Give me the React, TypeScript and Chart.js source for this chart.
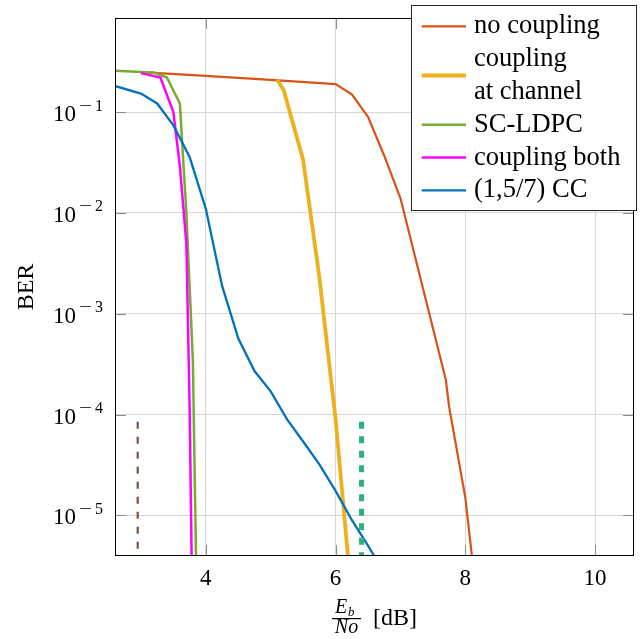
import React, { useEffect, useRef } from "react";
import { Chart, registerables } from "chart.js";
Chart.register(...registerables);

// ---- data ----
const xTickValues = [4, 6, 8, 10];
const yTickExponents = [-1, -2, -3, -4, -5];

const noCouplingX = [3.0, 4.0, 5.0, 6.0, 6.25, 6.5, 6.75, 7.0, 7.7, 7.75, 8.0, 8.25];
const noCouplingY = [0.25, 0.229, 0.209, 0.19, 0.15, 0.09, 0.037, 0.014, 2.2e-4, 1.2e-4, 1.5e-5, 5.6e-7];

const chanCouplingX = [5.1, 5.2, 5.5, 5.75, 6.0, 6.25];
const chanCouplingY = [0.21, 0.166, 0.0336, 2.3e-3, 9e-5, 1.5e-6];

const scLdpcX = [2.5, 3.0, 3.2, 3.4, 3.6, 3.7, 3.8, 3.85];
const scLdpcY = [0.26, 0.25, 0.247, 0.221, 0.122, 0.01, 3.5e-4, 3.5e-6];

const bothX = [3.0, 3.3, 3.5, 3.6, 3.7, 3.75, 3.8];
const bothY = [0.244, 0.221, 0.1, 0.029, 5e-3, 1.2e-4, 5e-7];

const ccX = [2.5, 3.0, 3.25, 3.5, 3.75, 4.0, 4.25, 4.5, 4.75, 5.0, 5.25, 5.5, 5.75, 6.0, 6.25, 6.5, 6.75];
const ccY = [0.19, 0.153, 0.122, 0.074, 0.036, 0.011, 1.9e-3, 5.7e-4, 2.7e-4, 1.7e-4, 9e-5, 5.4e-5, 3.2e-5, 1.75e-5, 9e-6, 5e-6, 2.7e-6];

const limitAX = [2.95, 2.95];
const limitAY = [8.5e-5, 1e-7];
const limitBX = [6.4, 6.4];
const limitBY = [8.5e-5, 1e-7];

const legendLabels = [["no coupling"], ["coupling", "at channel"], ["SC-LDPC"], ["coupling both"], ["(1,5/7) CC"]];
const seriesColors = ["#D95319", "#EDB120", "#77AC30", "#FF00FF", "#0072BD"];
const seriesWidths = [2.2, 3.8, 2.5, 2.5, 2.3];

const SERIF = "'Liberation Serif', 'Times New Roman', Times, serif";

function pts(xs: number[], ys: number[]) {
  return xs.map((x, i) => ({ x, y: ys[i] }));
}

const decorPlugin = {
  id: "decor",
  afterDatasetsDraw(chart: any) {
    const { ctx, chartArea: a, scales } = chart;
    const xs = scales.x;
    const ys = scales.y;
    ctx.save();
    // tick marks (inner, all four sides)
    ctx.strokeStyle = "#8c8c8c";
    ctx.lineWidth = 1;
    const L = 11;
    ctx.beginPath();
    xTickValues.forEach((v) => {
      const px = Math.round(xs.getPixelForValue(v)) + 0.5;
      ctx.moveTo(px, a.top);
      ctx.lineTo(px, a.top + L);
      ctx.moveTo(px, a.bottom);
      ctx.lineTo(px, a.bottom - L);
    });
    yTickExponents.forEach((e) => {
      const py = Math.round(ys.getPixelForValue(Math.pow(10, e))) + 0.5;
      ctx.moveTo(a.left, py);
      ctx.lineTo(a.left + L, py);
      ctx.moveTo(a.right, py);
      ctx.lineTo(a.right - L, py);
    });
    ctx.stroke();
    // frame
    ctx.strokeStyle = "#000";
    ctx.lineWidth = 1;
    ctx.strokeRect(Math.round(a.left) + 0.5, Math.round(a.top) + 0.5, Math.round(a.right - a.left) - 1, Math.round(a.bottom - a.top) - 1);

    ctx.fillStyle = "#000";
    // x tick labels
    ctx.font = `23px ${SERIF}`;
    ctx.textAlign = "center";
    ctx.textBaseline = "alphabetic";
    xTickValues.forEach((v) => {
      ctx.fillText(String(v), xs.getPixelForValue(v), 585);
    });
    // y tick labels 10^e
    yTickExponents.forEach((e) => {
      const py = ys.getPixelForValue(Math.pow(10, e));
      ctx.font = `23px ${SERIF}`;
      ctx.textAlign = "right";
      ctx.fillText("10", 76, py + 9);
      ctx.textAlign = "left";
      ctx.font = `16px ${SERIF}`;
      ctx.save();
      ctx.translate(79, py - 1.5);
      ctx.scale(1.45, 1);
      ctx.fillText("\u2212", 0, 0);
      ctx.restore();
      ctx.fillText(String(Math.abs(e)), 95, py - 1.5);
    });
    // y title
    ctx.save();
    ctx.translate(33, 287);
    ctx.rotate(-Math.PI / 2);
    ctx.font = `24px ${SERIF}`;
    ctx.textAlign = "center";
    ctx.fillText("BER", 0, 0);
    ctx.restore();
    // x title: Eb/No [dB]
    ctx.textAlign = "left";
    ctx.font = `italic 20px ${SERIF}`;
    ctx.fillText("E", 335, 613);
    ctx.font = `italic 13px ${SERIF}`;
    ctx.fillText("b", 348, 616);
    ctx.fillRect(332, 618, 29, 1.2);
    ctx.font = `italic 20px ${SERIF}`;
    ctx.textAlign = "center";
    ctx.fillText("No", 346.5, 633);
    ctx.textAlign = "left";
    ctx.font = `24px ${SERIF}`;
    ctx.fillText("[dB]", 373, 625);

    // legend
    const bx = 411.5, by = 5.5, bw = 225, bh = 205;
    ctx.fillStyle = "#fff";
    ctx.fillRect(bx, by, bw, bh);
    ctx.strokeStyle = "#262626";
    ctx.lineWidth = 1;
    ctx.strokeRect(bx, by, bw, bh);
    ctx.font = `26.5px ${SERIF}`;
    ctx.fillStyle = "#000";
    ctx.textAlign = "left";
    let base = 33.3;
    const step = 32.8;
    legendLabels.forEach((lines, i) => {
      const first = base;
      lines.forEach((t, j) => {
        ctx.fillText(t, 474, base);
        if (j < lines.length - 1) base += step;
      });
      const ly = (first + base) / 2 - 7;
      ctx.strokeStyle = seriesColors[i];
      ctx.lineWidth = seriesWidths[i];
      ctx.beginPath();
      ctx.moveTo(421.7, ly);
      ctx.lineTo(466, ly);
      ctx.stroke();
      base += step;
    });
    ctx.restore();
  },
};

export default function App() {
  const ref = useRef<HTMLCanvasElement>(null);
  useEffect(() => {
    if (!ref.current) return;
    const mk = (data: any, i: number) => ({
      label: legendLabels[i].join(" "),
      data,
      borderColor: seriesColors[i],
      backgroundColor: seriesColors[i],
      borderWidth: seriesWidths[i],
      pointRadius: 0,
      tension: 0,
      fill: false,
      clip: 0,
      order: 10 - i,
    });
    const chart = new Chart(ref.current, {
      type: "line",
      data: {
        datasets: [
          mk(pts(noCouplingX, noCouplingY), 0),
          mk(pts(chanCouplingX, chanCouplingY), 1),
          mk(pts(scLdpcX, scLdpcY), 2),
          mk(pts(bothX, bothY), 3),
          mk(pts(ccX, ccY), 4),
          {
            label: "limit A",
            data: pts(limitAX, limitAY),
            borderColor: "#7E5046",
            borderWidth: 2.2,
            borderDash: [7, 8],
            pointRadius: 0,
            clip: 0,
            order: 1,
          },
          {
            label: "limit B",
            data: pts(limitBX, limitBY),
            borderColor: "#2EB07A",
            borderWidth: 5,
            borderDash: [7, 7.5],
            pointRadius: 0,
            clip: 0,
            order: 0,
          },
        ] as any,
      },
      options: {
        animation: false,
        responsive: false,
        parsing: true,
        layout: { padding: { left: 115, top: 18, right: 10, bottom: 83 } },
        plugins: { legend: { display: false }, tooltip: { enabled: false } },
        scales: {
          x: {
            type: "linear",
            min: 2.6,
            max: 10.6,
            ticks: { display: false },
            grid: { color: "#d6d6d6", lineWidth: 1, drawTicks: false },
            border: { display: false },
            afterBuildTicks: (s: any) => {
              s.ticks = xTickValues.map((v) => ({ value: v }));
            },
            afterFit: (s: any) => {
              s.height = 0;
            },
          },
          y: {
            type: "logarithmic",
            min: 3.95e-6,
            max: 0.86,
            ticks: { display: false },
            grid: { color: "#d6d6d6", lineWidth: 1, drawTicks: false },
            border: { display: false },
            afterBuildTicks: (s: any) => {
              s.ticks = yTickExponents.map((e) => ({ value: Math.pow(10, e) }));
            },
            afterFit: (s: any) => {
              s.width = 0;
            },
          },
        },
      },
      plugins: [decorPlugin],
    } as any);
    return () => chart.destroy();
  }, []);
  return (
    <div style={{ position: "absolute", left: 0, top: 0, width: 644, height: 639, background: "#fff" }}>
      <canvas ref={ref} width={644} height={639} style={{ display: "block" }} />
    </div>
  );
}
